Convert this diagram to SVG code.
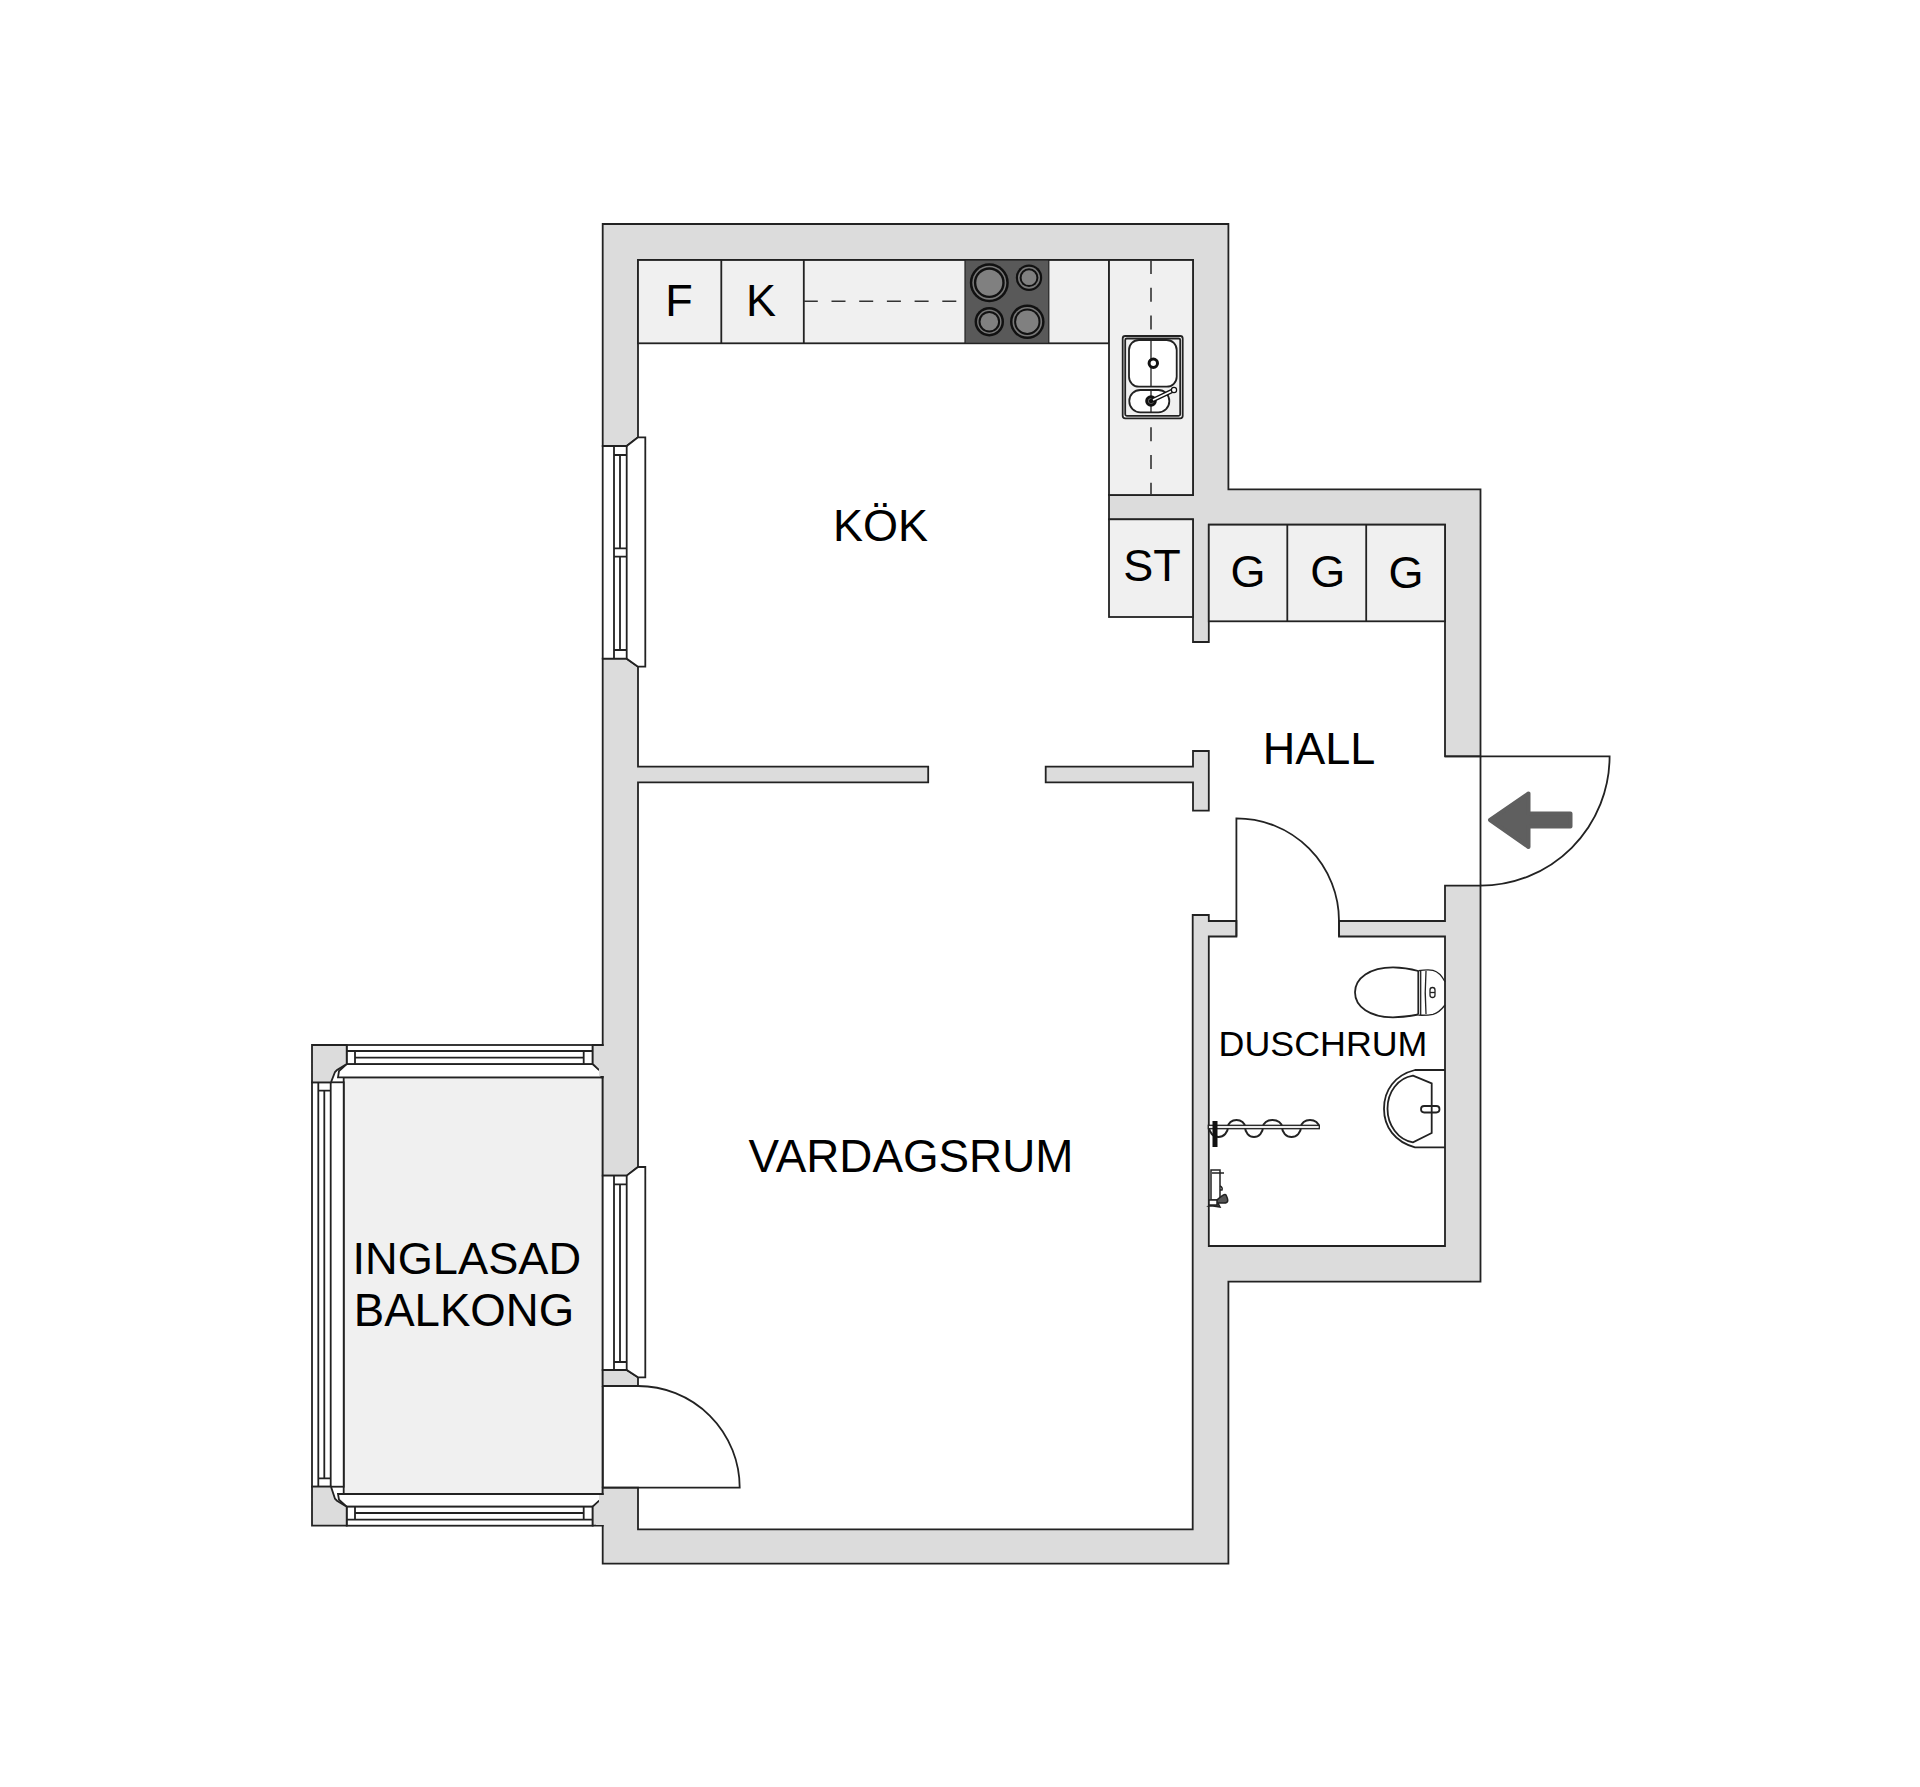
<svg xmlns="http://www.w3.org/2000/svg" width="1920" height="1787" viewBox="0 0 1920 1787">
<style>
.w{fill:#dcdcdc;stroke:#222;stroke-width:1.8;stroke-linejoin:miter}
.c{fill:#f0f0f0;stroke:#222;stroke-width:1.8}
.l{fill:none;stroke:#222;stroke-width:1.8}
.t{fill:none;stroke:#222;stroke-width:1.3}
.b{fill:#fff;stroke:#222;stroke-width:1.8}
.d{fill:none;stroke:#333;stroke-width:1.6;stroke-dasharray:14 13.7}
.x{font-family:"Liberation Sans",Arial,sans-serif;font-size:45px;fill:#000;text-anchor:middle}
.g{fill:#808080}
</style>
<rect width="1920" height="1787" fill="#fff"/>
<g id="balcony">
<rect x="343.7" y="1077.3" width="259" height="416.7" class="c"/>
<path class="b" d="M346.7 1064H592.7L600 1070L601.7 1077.3H338L339 1071Z"/>
<path class="b" d="M346.7 1506.7H592.7L600 1500.7L601.7 1494H338L339 1499.7Z"/>
<g id="balcony-window-top">
<rect x="346.7" y="1045" width="246" height="19" class="b"/>
<path class="l" d="M346.7 1051H592.7M355 1057.7H583.7M355 1051V1064M583.7 1051V1064"/>
</g>
<g id="balcony-window-bottom">
<rect x="346.7" y="1506.7" width="246" height="19" class="b"/>
<path class="l" d="M346.7 1519.7H592.7M355 1513H583.7M355 1506.7V1519.7M583.7 1506.7V1519.7"/>
</g>
<g id="balcony-window-left">
<rect x="312" y="1082.3" width="31.7" height="404.4" class="b"/>
<path class="l" d="M318.3 1082.3V1486.7M330.7 1082.3V1486.7M324.3 1090.7V1478.3M318.3 1090.7H330.7M318.3 1478.3H330.7"/>
</g>
<path class="w" d="M312 1045H346.7V1064L337 1070L335 1072L331 1082.3H312Z"/>
<path class="w" d="M312 1525.7H346.7V1506.7L337 1500.7L335 1498.7L331 1486.7H312Z"/>
</g>
<g id="walls">
<path class="w" d="M602.7 446V224H1228.4V489.3H1480.5V756.3H1445V524.7H1208.8V642H1193V519.3H1109V495H1193V260H638V437.3L626.7 446Z"/>
<path class="w" d="M602.7 658.7H626.7L638 666.7V766.7H928.2V782.3H638V1167L626.7 1175.7H602.7Z"/>
<path class="w" d="M602.7 1370H626.7L638 1377.3V1386H602.7Z"/>
<path class="w" d="M602.7 1487.7H638V1529.3H1192.7V915H1208.8V921H1236.4V936.5H1208.8V1246H1445V936.5H1339V921H1445V885.7H1480.5V1281.7H1228.4V1563.7H602.7Z"/>
<path class="w" d="M1045.7 766.7H1193V751H1208.8V810.7H1193V782.3H1045.7Z"/>
<path class="w" d="M592.7 1045H602.7V1077.3H601.7V1071.7L598.3 1069.3L592.7 1064Z"/>
<path class="w" d="M592.7 1525.7H602.7V1494H601.7V1499L598.3 1501.4L592.7 1506.7Z"/>
<rect x="596" y="1046" width="9" height="17" fill="#dcdcdc"/>
<rect x="599" y="1063" width="6" height="13" fill="#dcdcdc"/>
<rect x="596" y="1508" width="9" height="17" fill="#dcdcdc"/>
<rect x="599" y="1495" width="6" height="13" fill="#dcdcdc"/>
</g>
<g id="kitchen-windows">
<g id="window-kitchen">
<path class="b" d="M602.7 446H626.7L638 437.3H645.3V666.7H638L626.7 658.7H602.7Z"/>
<path class="l" d="M614 446V658.7M626.7 446V658.7M620 455V548.3M620 556.7V650M614 455H626.7M614 548.3H626.7M614 556.7H626.7M614 650H626.7"/>
</g>
<g id="window-living">
<path class="b" d="M602.7 1175.7H626.7L638 1167H645.3V1377.3H638L626.7 1370H602.7Z"/>
<path class="l" d="M614 1175.7V1370M626.7 1175.7V1370M620 1184.3V1362M614 1184.3H626.7M614 1362H626.7"/>
</g>
</g>
<g id="doors">
<path class="l" d="M602.7 1386V1487.7M638 1386A101.7 101.7 0 0 1 739.7 1487.7H602.7"/>
<path class="l" d="M1480.5 756.3V885.7M1445 756.3H1609.6A129.4 129.4 0 0 1 1480.2 885.7"/>
<path class="l" d="M1236.4 936.5V818.3A102.6 102.6 0 0 1 1339 921V936.5"/>
<path id="entry-arrow" d="M1490 820L1528.5 793.5V813.5H1570.5V826.5H1528.5V847Z" fill="#5f5f5f" stroke="#5f5f5f" stroke-width="4" stroke-linejoin="round"/>
</g>
<g id="kitchen">
<rect x="638" y="260" width="471" height="83.3" class="c"/>
<rect x="1109" y="260" width="84" height="235" class="c"/>
<path class="l" d="M721.3 260V343.3M803.8 260V343.3"/>
<path class="d" d="M803.8 301.3H958"/>
<path class="d" d="M1151 260V336M1151 427.3V495"/>
<rect x="1109" y="519.3" width="84" height="97.7" class="c"/>
<g id="cabinets">
<rect x="1208.8" y="524.7" width="236.2" height="96.6" class="c"/>
<path class="l" d="M1287.3 524.7V621.3M1366.2 524.7V621.3"/>
</g>
<g id="stove">
<rect x="965" y="260" width="83.8" height="83.3" fill="#595959" stroke="#222" stroke-width="1.2"/>
<g id="burners" stroke="none">
<circle cx="989.3" cy="282.7" r="19.5" fill="#111"/><circle cx="989.3" cy="282.7" r="17" fill="#777"/><circle cx="989.3" cy="282.7" r="15.4" fill="#111"/><circle cx="989.3" cy="282.7" r="13" class="g"/>
<circle cx="1029" cy="277.7" r="13.2" fill="#111"/><circle cx="1029" cy="277.7" r="11" fill="#777"/><circle cx="1029" cy="277.7" r="9.4" fill="#111"/><circle cx="1029" cy="277.7" r="7.4" class="g"/>
<circle cx="989.3" cy="321.7" r="14.7" fill="#111"/><circle cx="989.3" cy="321.7" r="12.2" fill="#777"/><circle cx="989.3" cy="321.7" r="10.8" fill="#111"/><circle cx="989.3" cy="321.7" r="8.8" class="g"/>
<circle cx="1027.3" cy="321.7" r="17.3" fill="#111"/><circle cx="1027.3" cy="321.7" r="14.8" fill="#777"/><circle cx="1027.3" cy="321.7" r="13.2" fill="#111"/><circle cx="1027.3" cy="321.7" r="11.2" class="g"/>
</g>
</g>
<g id="sink">
<rect x="1122.7" y="336" width="60" height="82.3" rx="2.5" class="b"/>
<rect x="1125.2" y="338.5" width="55" height="77.3" rx="1.5" class="c"/>
<rect x="1129" y="340" width="47.7" height="46.7" rx="10" class="b"/>
<rect x="1129.3" y="390" width="40" height="22.3" rx="11" class="b"/>
<path class="t" d="M1151 340V386.7M1151 390V412.3"/>
<circle cx="1153.3" cy="363.3" r="4.2" fill="#fff" stroke="#111" stroke-width="3"/>
<circle cx="1151" cy="401" r="4.3" fill="#888" stroke="#111" stroke-width="3"/>
<path d="M1151 401L1174 390" stroke="#111" stroke-width="4.5" stroke-linecap="round"/>
<path d="M1153 400L1172 391" stroke="#fff" stroke-width="1.8"/>
<circle cx="1174" cy="390" r="2.6" fill="#fff" stroke="#111" stroke-width="1.2"/>
</g>
</g>
<g id="bathroom">
<g id="toilet">
<path class="l" d="M1418.3 971C1408 968 1400 967.3 1393 967.3C1370 967.3 1355 978 1355 992.3C1355 1007 1370 1017.3 1393 1017.3C1400 1017.3 1408 1016.5 1418.3 1014.5"/>
<path class="l" d="M1418.3 971V1014.5"/>
<path class="t" d="M1420.7 970.5V1015M1426 971C1425 985 1425 1000 1426 1014M1418.3 970.7C1425 969.8 1430 969.8 1433 970.3C1438 971.5 1442 976 1445 981.7M1418.3 1015.2C1425 1015.4 1430 1015 1433 1014.3C1438 1013 1442 1009 1445 1005"/>
<rect x="1430" y="987.5" width="5" height="10" rx="2.5" class="t"/>
<path class="t" d="M1430 992.5H1435"/>
</g>
<g id="basin">
<path class="l" d="M1445 1070H1415C1395 1075 1384 1090 1384 1108.7C1384 1127 1395 1142 1415 1147.3H1445"/>
<path class="l" d="M1413 1075.7L1431.7 1083.3V1133L1413 1142.3C1398 1140 1387.5 1125 1387.5 1108.7C1387.5 1092 1398 1078 1413 1075.7Z"/>
<rect x="1421" y="1106" width="18.5" height="6.5" rx="3.2" class="l"/>
</g>
<g id="shower">
<path fill="none" stroke="#222" stroke-width="2" d="M1209 1127A9.5 10 0 0 0 1228 1127A8.5 7 0 0 1 1245 1127A9 10 0 0 0 1263 1127A9.5 7 0 0 1 1282 1127A9.5 10 0 0 0 1301 1127A9 7 0 0 1 1319 1127"/>
<rect x="1208.3" y="1125.3" width="111" height="3.4" fill="#eee" stroke="#222" stroke-width="1.3"/>
<rect x="1212.5" y="1121" width="5" height="26" fill="#111"/>
</g>
<g id="shower-mixer" fill="none" stroke="#222" stroke-width="1.5">
<rect x="1211" y="1170" width="9" height="30" fill="#fff"/>
<path d="M1212 1173H1224M1220 1186A3 3 0 0 1 1222 1190L1220 1190"/>
<path d="M1209 1206C1216 1202 1224 1192 1226 1195C1229 1201 1228 1203 1224 1203L1218 1203L1220 1207L1213 1206Z" fill="#555"/>
<rect x="1209" y="1200" width="8" height="5" fill="#fff"/>
</g>
</g>
<g id="labels">
<text class="x" x="679" y="316">F</text>
<text class="x" x="761" y="316">K</text>
<text class="x" x="880.5" y="541">KÖK</text>
<text class="x" x="1152" y="581">ST</text>
<text class="x" x="1248" y="587.3">G</text>
<text class="x" x="1327.8" y="587">G</text>
<text class="x" x="1406" y="588.3">G</text>
<text class="x" x="1319" y="764">HALL</text>
<text class="x" x="911" y="1171.5" style="font-size:45.8px">VARDAGSRUM</text>
<text class="x" x="466.8" y="1273.5" style="font-size:45.2px">INGLASAD</text>
<text class="x" x="464" y="1326" style="font-size:45.6px">BALKONG</text>
<text class="x" x="1323" y="1056" style="font-size:35.8px">DUSCHRUM</text>
</g>
</svg>
